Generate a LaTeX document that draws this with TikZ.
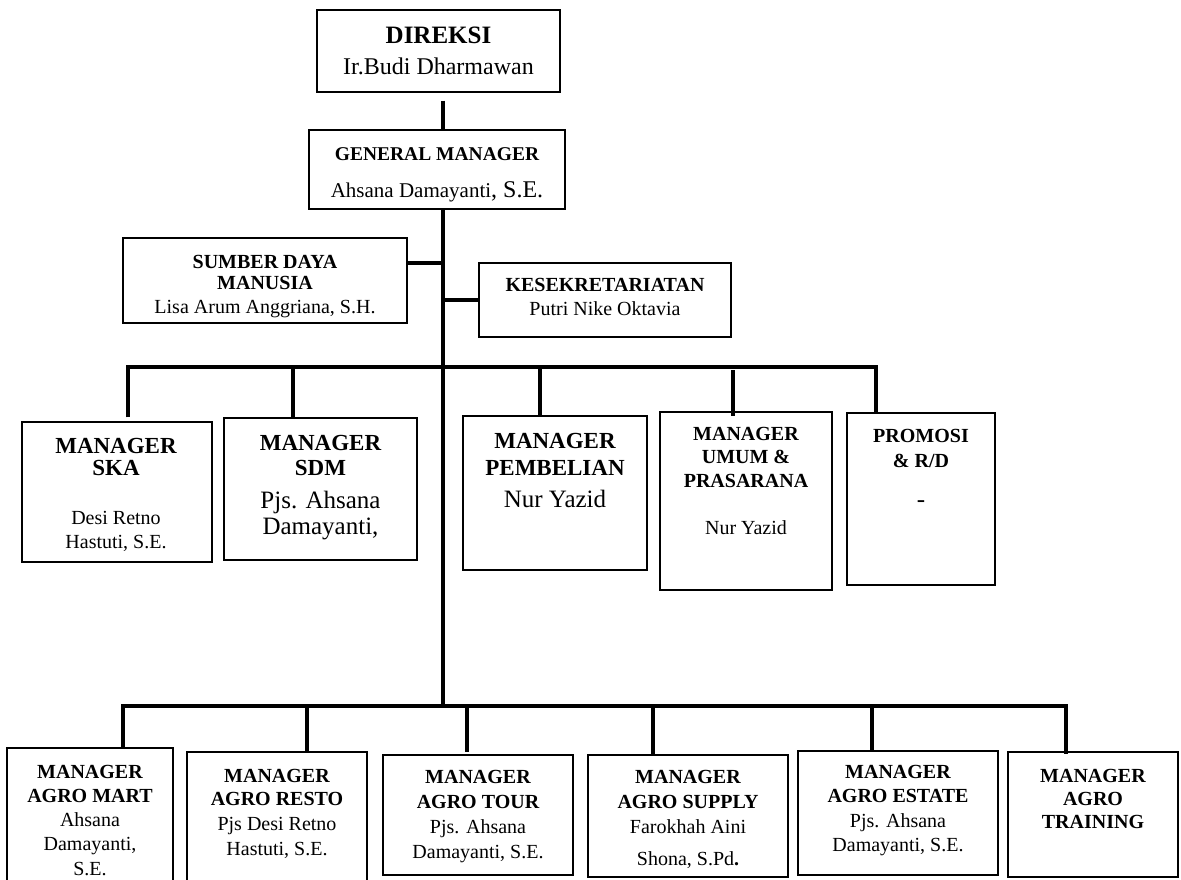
\documentclass[tikz,border=0pt]{standalone}
\usepackage{fontspec}
\setmainfont{Liberation Serif}
\usetikzlibrary{fit}
\newcommand\myfs[1]{\fontsize{#1}{#1}\selectfont}
\begin{document}
\begin{tikzpicture}[x=1pt,y=-1pt,
  box/.style={draw, line width=1.4pt, inner sep=0pt},
  conn/.style={line width=4.6pt},
  tb/.style={anchor=base, inner sep=0pt, font=\bfseries\myfs{#1}}, tb/.default=20,
  tr/.style={anchor=base, inner sep=0pt, font=\myfs{#1}}, tr/.default=20]
\useasboundingbox (0,0) rectangle (1181,879);

% ---------- boxes ----------
\node[box, fit={(317,10) (560,92)}] (dir) {};
\node[box, fit={(309,130) (565,209)}] (gm) {};
\node[box, fit={(123,238) (407,323)}] (sdm) {};
\node[box, fit={(479,263) (731,337)}] (kes) {};
\node[box, fit={(22,422) (212,562)}] (ska) {};
\node[box, fit={(224,418) (417,560)}] (sdmm) {};
\node[box, fit={(463,416) (647,570)}] (pem) {};
\node[box, fit={(660,412) (832,590)}] (umum) {};
\node[box, fit={(847,413) (995,585)}] (prom) {};
\node[box, fit={(7,748) (173,890)}] (mart) {};
\node[box, fit={(187,752) (367,890)}] (resto) {};
\node[box, fit={(383,755) (573,875)}] (tour) {};
\node[box, fit={(588,755) (788,877)}] (supply) {};
\node[box, fit={(798,751) (998,875)}] (estate) {};
\node[box, fit={(1008,752) (1178,877)}] (train) {};

% ---------- texts ----------
\node[tb=25] (dir1) at (438.5,43) {DIREKSI};
\node[tr=24] (dir2) at (438.5,74) {Ir.Budi Dharmawan};
\node[tb=19.5] (gm1) at (437,160) {GENERAL MANAGER};
\node[tr=21] (gm2) at (437,197) {Ahsana Damayanti{\myfs{24}, S.E.}};

\node[tb] (sdm1) at (265,268) {SUMBER DAYA};
\node[tb] (sdm2) at (265,289) {MANUSIA};
\begin{scope}
\clip (123,238) rectangle (407,317);
\node[tr] (sdm3) at (265,313) {Lisa Arum Anggriana, S.H.};
\end{scope}

\node[tb] (kes1) at (605,291) {KESEKRETARIATAN};
\node[tr] (kes2) at (605,315) {Putri Nike Oktavia};

\node[tb=23] (ska1) at (116,453) {MANAGER};
\node[tb=23] (ska2) at (116,475) {SKA};
\node[tr] (ska3) at (116,524) {Desi Retno};
\node[tr] (ska4) at (116,548) {Hastuti, S.E.};

\node[tb=23] (sdmm1) at (320.5,450) {MANAGER};
\node[tb=23] (sdmm2) at (320.5,475) {SDM};
\node[tr=25] (sdmm3) at (320.5,508) {Pjs. Ahsana};
\node[tr=25] (sdmm4) at (320.5,534) {Damayanti,};

\node[tb=23] (pem1) at (555,448) {MANAGER};
\node[tb=23] (pem2) at (555,475) {PEMBELIAN};
\node[tr=25] (pem3) at (555,507) {Nur Yazid};

\node[tb] (umum1) at (746,440) {MANAGER};
\node[tb] (umum2) at (746,463) {UMUM \&};
\node[tb] (umum3) at (746,487) {PRASARANA};
\node[tr] (umum4) at (746,534) {Nur Yazid};

\node[tb] (prom1) at (921,442) {PROMOSI};
\node[tb] (prom2) at (921,467) {\& R/D};
\node[tr=25] (prom3) at (921,507) {-};

\node[tb] (mart1) at (90,778) {MANAGER};
\node[tb] (mart2) at (90,802) {AGRO MART};
\node[tr] (mart3) at (90,826) {Ahsana};
\node[tr] (mart4) at (90,850) {Damayanti,};
\node[tr] (mart5) at (90,875) {S.E.};

\node[tb] (resto1) at (277,782) {MANAGER};
\node[tb] (resto2) at (277,805) {AGRO RESTO};
\node[tr] (resto3) at (277,830) {Pjs Desi Retno};
\node[tr] (resto4) at (277,855) {Hastuti, S.E.};

\node[tb] (tour1) at (478,783) {MANAGER};
\node[tb] (tour2) at (478,808) {AGRO TOUR};
\node[tr] (tour3) at (478,833) {Pjs. Ahsana};
\node[tr] (tour4) at (478,858) {Damayanti, S.E.};

\node[tb] (sup1) at (688,783) {MANAGER};
\node[tb] (sup2) at (688,808) {AGRO SUPPLY};
\node[tr] (sup3) at (688,833) {Farokhah Aini};
\node[tr] (sup4) at (688,865) {Shona, S.Pd{\bfseries .}};

\node[tb] (est1) at (898,778) {MANAGER};
\node[tb] (est2) at (898,802) {AGRO ESTATE};
\node[tr] (est3) at (898,827) {Pjs. Ahsana};
\node[tr] (est4) at (898,851) {Damayanti, S.E.};

\node[tb] (tr1) at (1093,782) {MANAGER};
\node[tb] (tr2) at (1093,805) {AGRO};
\node[tb] (tr3) at (1093,828) {TRAINING};

% ---------- connector coordinates ----------
\coordinate (tx) at (443,0);
\coordinate (mL) at (128,367);
\coordinate (mR) at (876,367);
\coordinate (bL) at (123,706);
\coordinate (bR) at (1066,706);
\coordinate (xSDM) at (293,367);
\coordinate (xPEM) at (540,367);
\coordinate (xUMUM) at (733,370);
\coordinate (xRESTO) at (307,706);
\coordinate (xTOUR) at (467,706);
\coordinate (xSUP) at (653,706);
\coordinate (xEST) at (872,706);
\coordinate (bT) at (443,706);

% ---------- connectors ----------
\draw[conn] ([yshift=-8pt]dir.south -| tx) -- (gm.north -| tx);
\draw[conn] (gm.south -| tx) -- (bT);
\draw[conn] ([yshift=17.5pt]sdm.east) -- ([yshift=17.5pt]sdm.east -| tx);
\draw[conn] (kes.west) -- (kes.west -| tx);
\draw[conn] ([yshift=4pt]ska.north -| mL) -- (mL) -- (mR) -- (prom.north -| mR);
\draw[conn] (xSDM) -- (sdmm.north -| xSDM);
\draw[conn] (xPEM) -- (pem.north -| xPEM);
\draw[conn] (xUMUM) -- ([yshift=-5pt]umum.north -| xUMUM);
\draw[conn] (mart.north -| bL) -- (bL) -- (bR) -- ([yshift=-3pt]train.north -| bR);
\draw[conn] (xRESTO) -- (resto.north -| xRESTO);
\draw[conn] (xTOUR) -- ([yshift=2pt]tour.north -| xTOUR);
\draw[conn] (xSUP) -- (supply.north -| xSUP);
\draw[conn] (xEST) -- (estate.north -| xEST);
\end{tikzpicture}
\end{document}
